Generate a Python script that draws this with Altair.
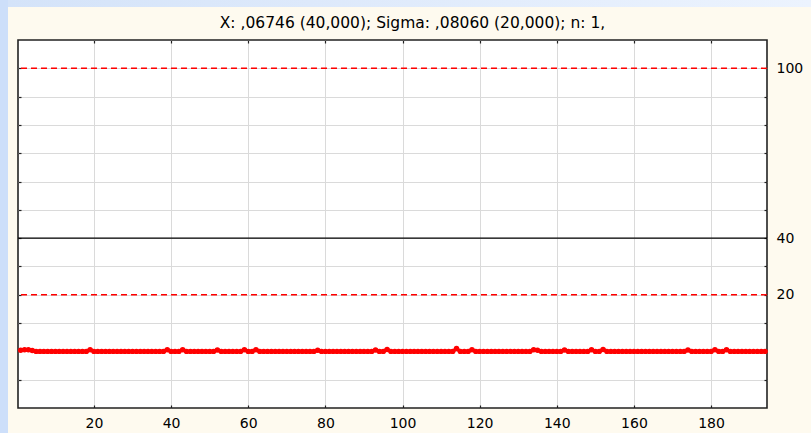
import altair as alt
import pandas as pd

# ---------------- data ----------------
idx = list(range(1, 195))
values = [
    0.4, 0.6, 0.6, 0.3, 0, 0, 0, 0, 0, 0,
    0, 0, 0, 0, 0, 0, 0, 0, 0.6, 0,
    0, 0, 0, 0, 0, 0, 0, 0, 0, 0,
    0, 0, 0, 0, 0, 0, 0, 0, 0.6, 0,
    0, 0, 0.6, 0, 0, 0, 0, 0, 0, 0,
    0, 0.5, 0, 0, 0, 0, 0, 0, 0.6, 0,
    0, 0.6, 0, 0, 0, 0, 0, 0, 0, 0,
    0, 0, 0, 0, 0, 0, 0, 0.4, 0, 0,
    0, 0, 0, 0, 0, 0, 0, 0, 0, 0,
    0, 0, 0.5, 0, 0, 0.7, 0, 0, 0, 0,
    0, 0, 0, 0, 0, 0, 0, 0, 0, 0,
    0, 0, 0, 1.0, 0, 0, 0, 0.6, 0, 0,
    0, 0, 0, 0, 0, 0, 0, 0, 0, 0,
    0, 0, 0, 0.6, 0.4, 0, 0, 0, 0, 0,
    0, 0.5, 0, 0, 0, 0, 0, 0, 0.6, 0,
    0, 0.7, 0, 0, 0, 0, 0, 0, 0, 0,
    0, 0, 0, 0, 0, 0, 0, 0, 0, 0,
    0, 0, 0, 0.5, 0, 0, 0, 0, 0, 0,
    0.6, 0, 0, 0.6, 0, 0, 0, 0, 0, 0,
    0, 0, 0, 0,
]
x_ticks = [20, 40, 60, 80, 100, 120, 140, 160, 180]
y_ticks = [-10, 0, 10, 20, 30, 40, 50, 60, 70, 80, 90, 100]
y_labels = [20, 40, 100]
limits_dashed = [100, 20]   # UCL, LCL
limit_center = [40]         # centre line
title_text = "X: ,06746 (40,000); Sigma: ,08060 (20,000); n: 1,"

# ---------------- layout ----------------
W, H = 749, 368
PAD = {"left": 18, "top": 40, "right": 44, "bottom": 25}
FONT = "DejaVu Sans"
CREAM = "#fefaef"
TICK = "#222222"

df = pd.DataFrame({"idx": idx, "val": values})
xs = alt.Scale(domain=[0.3, 194.5], nice=False, zero=False)
ys = alt.Scale(domain=[-20, 110], nice=False, zero=False)

base = alt.Chart(df)

# main layer: line, bottom labels + vertical grid, right labels
line = base.mark_line(color="#ff0000", strokeWidth=3.5).encode(
    x=alt.X("idx:Q", scale=xs, axis=alt.Axis(
        orient="bottom", values=x_ticks, grid=True, gridColor="#dadada", gridWidth=1,
        ticks=False, tickSize=0, domain=False, labelPadding=8, labelFont=FONT,
        labelFontSize=14, labelColor="#000000", labelOverlap=False, title=None)),
    y=alt.Y("val:Q", scale=ys, axis=alt.Axis(
        orient="right", values=y_labels, grid=False, ticks=False, tickSize=0,
        domain=False, labelPadding=9, labelFont=FONT, labelFontSize=14,
        labelColor="#000000", labelOverlap=False, labelBaseline="middle", title=None)),
)

# points: inward ticks on bottom edge and right edge
points = base.mark_circle(color="#ff0000", size=30, opacity=1).encode(
    x=alt.X("idx:Q", scale=xs, axis=alt.Axis(
        orient="top", offset=-H, values=x_ticks, labels=False, ticks=True, tickSize=3,
        tickColor=TICK, tickWidth=1.2, domain=False, grid=False, title=None)),
    y=alt.Y("val:Q", scale=ys, axis=alt.Axis(
        orient="left", offset=-W, values=y_ticks, labels=False, ticks=True, tickSize=3,
        tickColor=TICK, tickWidth=1.2, domain=False, grid=False, title=None)),
)

# invisible layer: inward ticks on top edge and left edge
frame_ticks = base.mark_point(opacity=0).encode(
    x=alt.X("idx:Q", scale=xs, axis=alt.Axis(
        orient="bottom", offset=-H, values=x_ticks, labels=False, ticks=True, tickSize=3,
        tickColor=TICK, tickWidth=1.2, domain=False, grid=False, title=None)),
    y=alt.Y("val:Q", scale=ys, axis=alt.Axis(
        orient="right", offset=-W, values=y_ticks, labels=False, ticks=True, tickSize=3,
        tickColor=TICK, tickWidth=1.2, domain=False, grid=False, title=None)),
)

# invisible layer: horizontal grid
hgrid = base.mark_point(opacity=0).encode(
    x=alt.X("idx:Q", scale=xs, axis=None),
    y=alt.Y("val:Q", scale=ys, axis=alt.Axis(
        orient="left", values=y_ticks, labels=False, ticks=False, domain=False,
        grid=True, gridColor="#dadada", gridWidth=1, title=None)),
)

dashed = alt.Chart(pd.DataFrame({"lim": limits_dashed})).mark_rule(
    color="#ff0000", strokeWidth=1.4, strokeDash=[6, 4]
).encode(y=alt.Y("lim:Q", scale=ys, axis=None))

center = alt.Chart(pd.DataFrame({"lim": limit_center})).mark_rule(
    color="#000000", strokeWidth=1.4
).encode(y=alt.Y("lim:Q", scale=ys, axis=None))

# decorative blue window edges (left and top)
one = pd.DataFrame({"k": [0]})
left_strip = alt.Chart(one).mark_rect(color="#cddffa").encode(
    x=alt.value(-PAD["left"]), x2=alt.value(-PAD["left"] + 8),
    y=alt.value(-PAD["top"]), y2=alt.value(H + PAD["bottom"]),
)
top_strip = alt.Chart(one).mark_rect(
    color=alt.Gradient(
        gradient="linear",
        stops=[alt.GradientStop(color="#d4e3f9", offset=0),
               alt.GradientStop(color="#ecf3fe", offset=1)],
        x1=0, x2=1, y1=0, y2=0,
    )
).encode(
    x=alt.value(-PAD["left"] + 8), x2=alt.value(W + PAD["right"]),
    y=alt.value(-PAD["top"]), y2=alt.value(-PAD["top"] + 7),
)

chart = alt.layer(
    left_strip, top_strip, hgrid, frame_ticks, dashed, center, line, points
).resolve_axis(x="independent", y="independent").properties(
    width=W, height=H,
    autosize=alt.AutoSizeParams(type="none"),
    padding=PAD,
    background=CREAM,
    title=alt.TitleParams(
        text=title_text, font=FONT, fontSize=15.5, fontWeight="normal",
        color="#000000", anchor="middle", frame="group", offset=-46, dx=20,
        baseline="bottom",
    ),
).configure_view(
    fill="#ffffff", stroke="#222222", strokeWidth=1.6
)

chart.save("out.html", embed_options={"renderer": "svg", "actions": False})
